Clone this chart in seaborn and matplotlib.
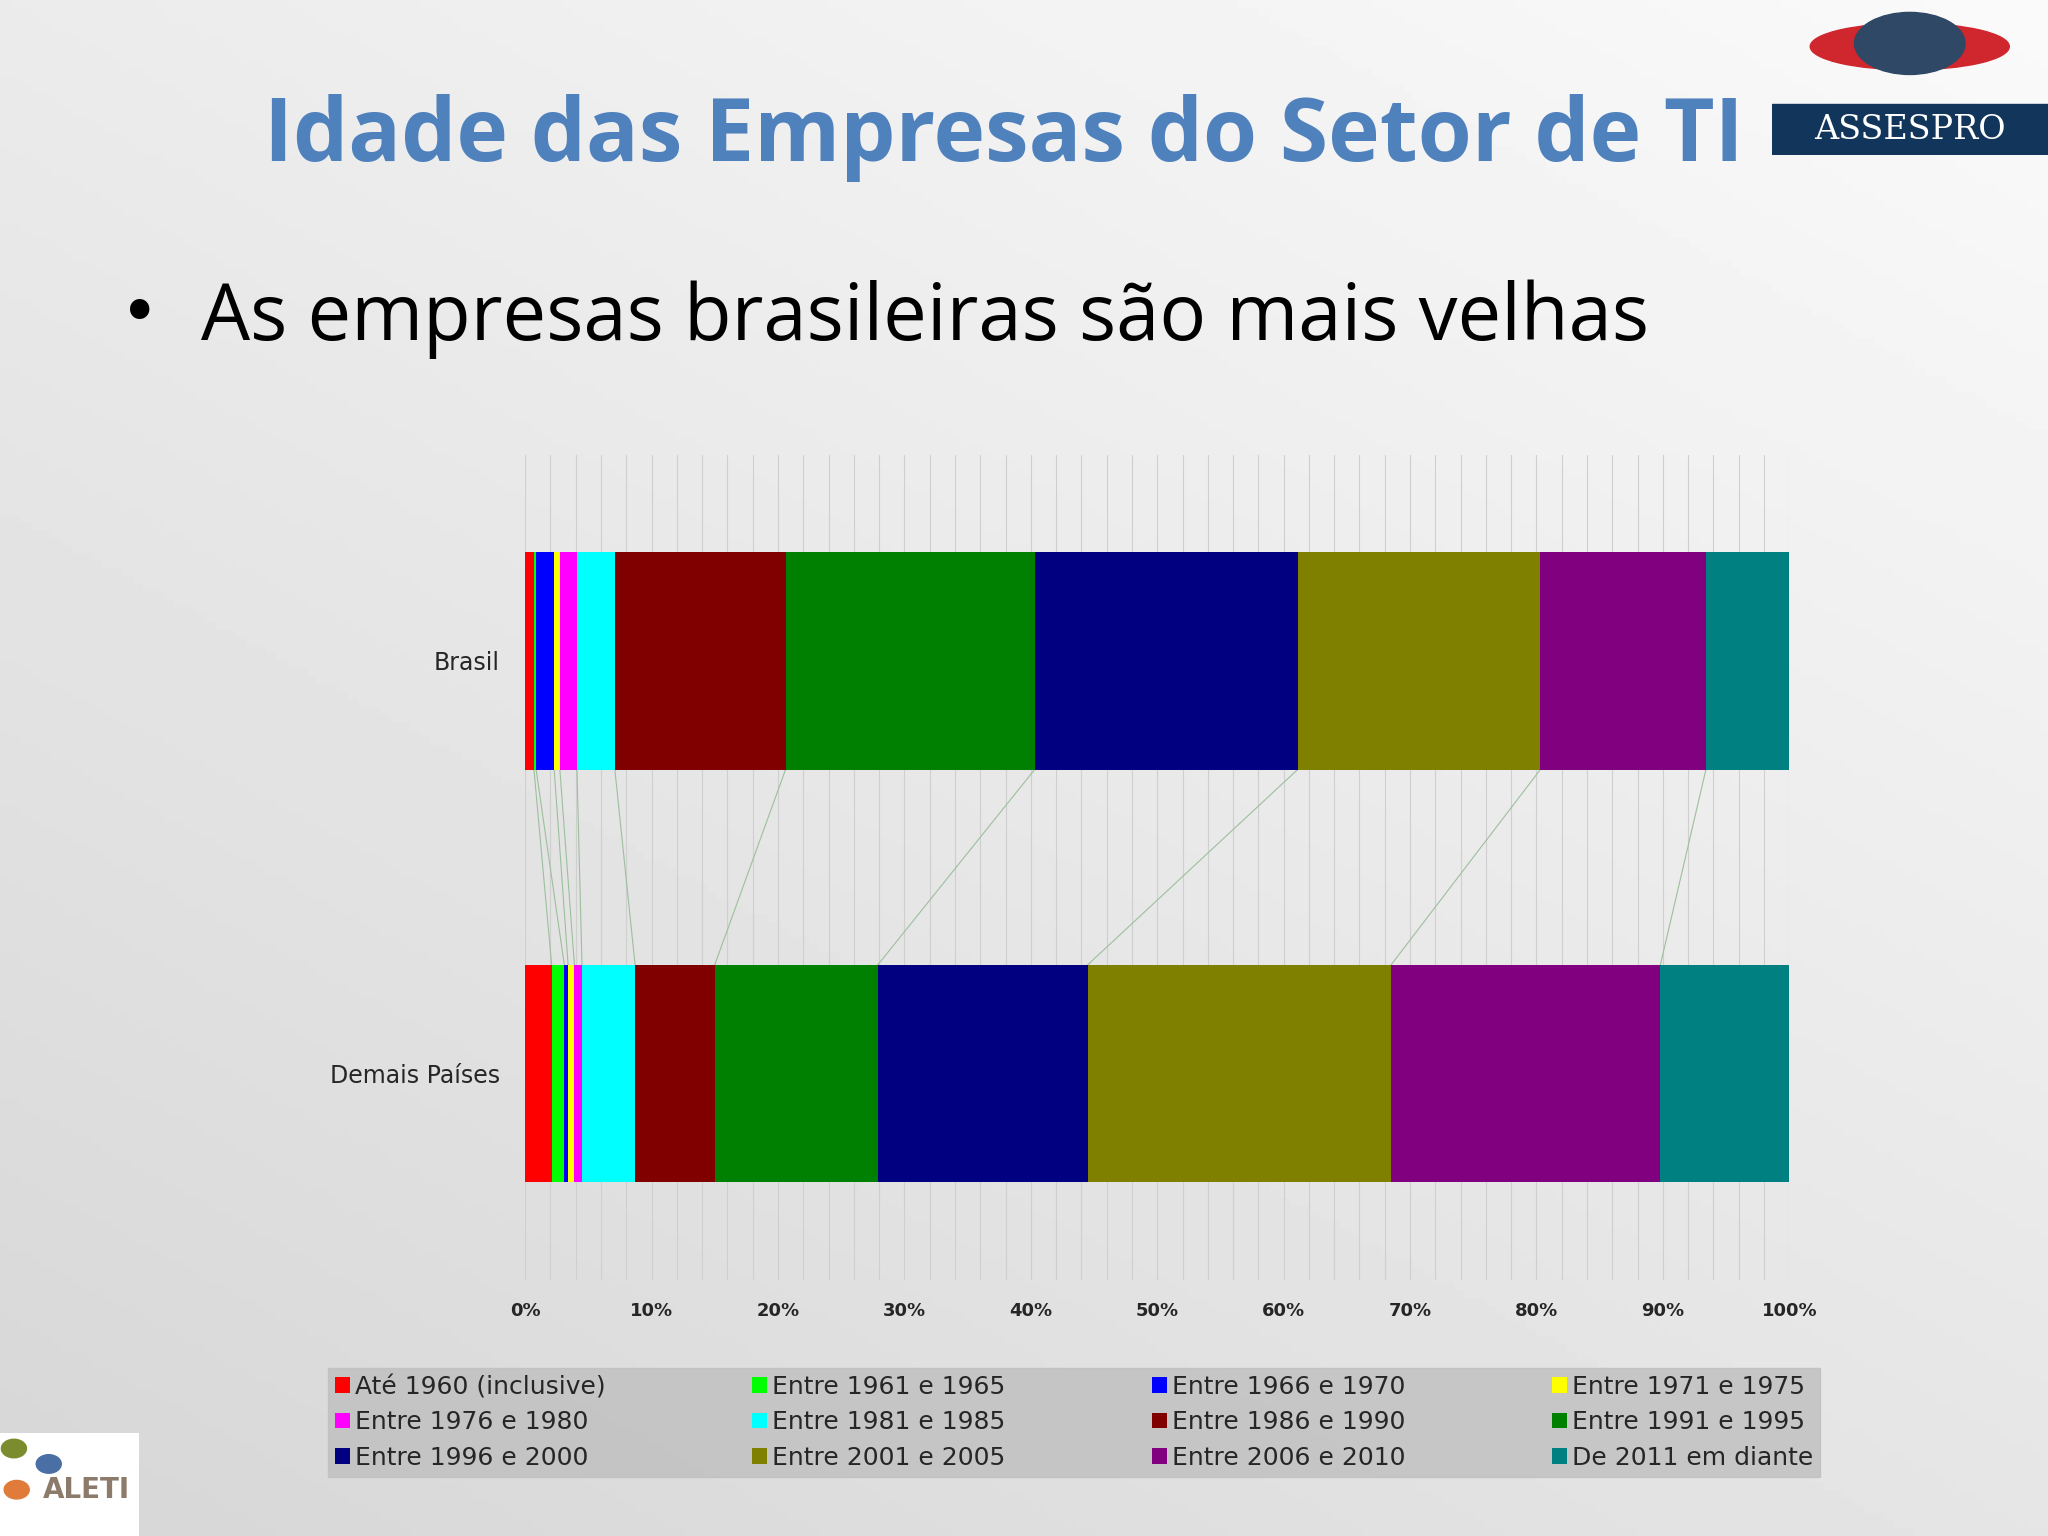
import numpy as np
import pandas as pd
import matplotlib
matplotlib.use("Agg")
import matplotlib.pyplot as plt
import seaborn as sns

categories = ["Brasil", "Demais Países"]
series = ["Até 1960 (inclusive)", "Entre 1961 e 1965", "Entre 1966 e 1970", "Entre 1971 e 1975",
          "Entre 1976 e 1980", "Entre 1981 e 1985", "Entre 1986 e 1990", "Entre 1991 e 1995",
          "Entre 1996 e 2000", "Entre 2001 e 2005", "Entre 2006 e 2010", "De 2011 em diante"]
brasil = [0.7, 0.17, 1.43, 0.45, 1.35, 3.0, 13.5, 19.7, 20.8, 19.2, 13.1, 6.6]
demais = [2.1, 1.0, 0.3, 0.5, 0.6, 4.2, 6.3, 12.9, 16.6, 24.0, 21.3, 10.2]
colors = ["#FF0000", "#00FF00", "#0000FF", "#FFFF00", "#FF00FF", "#00FFFF",
          "#800000", "#008000", "#000080", "#808000", "#800080", "#008080"]

sns.set_style("white")
plt.rcParams['font.family'] = ['DejaVu Sans']

fig = plt.figure(figsize=(20.48, 15.36), dpi=100)
bg = fig.add_axes([0, 0, 1, 1], zorder=-10)
yy, xx = np.mgrid[0:1:200j, 0:1:200j]
grad = 0.84 + 0.14 * (xx * 0.5 + yy * 0.7) / 1.2
bg.imshow(grad, cmap="gray", vmin=0, vmax=1, extent=[0, 1, 0, 1], aspect="auto", origin="lower")
bg.axis("off")

fig.text(0.49, 0.91, "Idade das Empresas do Setor de TI", fontsize=63, fontweight="bold",
         color="#4F81BD", ha="center", va="center", family="Open Sans")
fig.text(0.068, 0.795, "•", fontsize=48, ha="center", va="center", color="black")
fig.text(0.098, 0.792, "As empresas brasileiras são mais velhas", fontsize=56, ha="left",
         va="center", color="black", family="Open Sans")

lg = fig.add_axes([0.865, 0.899, 0.135, 0.101])
lg.set_xlim(0, 1); lg.set_ylim(0, 1); lg.axis("off")
lg.add_patch(plt.Rectangle((0, 0), 1, 0.33, color="#12355B"))
lg.text(0.5, 0.165, "ASSESPRO", color="white", fontsize=24, ha="center", va="center", family="DejaVu Serif")
lg.add_patch(matplotlib.patches.Ellipse((0.5, 0.7), 0.72, 0.3, color="#D0262D"))
lg.add_patch(plt.Circle((0.5, 0.72), 0.2, color="#2E4866", transform=lg.transData))

df = pd.DataFrame({"cat": np.repeat(categories, len(series)),
                   "series": series * 2,
                   "val": brasil + demais})
ax = fig.add_axes([0.2564, 0.1667, 0.6173, 0.5374])
ax.patch.set_alpha(0)
left = np.zeros(2)
cum = []
for i, s in enumerate(series):
    vals = df[df.series == s].val.values
    ax.barh(categories, vals, left=left, height=0.527, color=colors[i], label=s, zorder=3, lw=0)
    left = left + vals
    cum.append(left.copy())
for cv in cum[:-1]:
    ax.plot([cv[0], cv[1]], [0.2635, 1 - 0.2635], color="#9DBF9D", lw=0.8, zorder=2)
ax.set_xlim(0, 100)
ax.set_ylim(1.5, -0.5)
ax.set_xticks(np.arange(0, 101, 10))
ax.set_xticklabels([f"{v}%" for v in range(0, 101, 10)], fontsize=13, fontweight="bold")
ax.set_xticks(np.arange(0, 101, 2), minor=True)
ax.grid(axis="x", which="both", color="#CFCFCF", lw=0.8, zorder=0)
ax.tick_params(axis="y", labelsize=17, length=0, pad=18)
ax.tick_params(axis="x", length=0, pad=16)
for sp in ax.spines.values():
    sp.set_visible(False)

handles, labels = ax.get_legend_handles_labels()
order = [i * 4 + j for j in range(4) for i in range(3)]
leg = fig.legend([handles[k] for k in order], [labels[k] for k in order], loc="center",
                 bbox_to_anchor=(0.525, 0.0625), ncol=4, mode="expand",
                 fontsize=18, frameon=True, fancybox=False, handlelength=0.6, handleheight=0.6,
                 labelspacing=0.45, borderpad=0.3, handletextpad=0.2)
leg.set_bbox_to_anchor((0.154, 0.033, 0.741, 0.082), transform=fig.transFigure)
leg._loc = 10
leg.get_frame().set_facecolor("#BFBFBF")
leg.get_frame().set_edgecolor("#BFBFBF")

al = fig.add_axes([0, 0, 0.068, 0.067])
al.set_xlim(0, 1); al.set_ylim(0, 1); al.axis("off")
al.add_patch(plt.Rectangle((0, 0), 1, 1, color="white"))
al.text(0.62, 0.45, "ALETI", fontsize=20, fontweight="bold", color="#8C7A6B", ha="center", va="center")
for (x, y, c) in [(0.1, 0.85, "#7A8C2E"), (0.35, 0.7, "#4A6FA5"), (0.12, 0.45, "#E07B39")]:
    al.add_patch(plt.Circle((x, y), 0.09, color=c))

fig.savefig("out.png", dpi=100)
